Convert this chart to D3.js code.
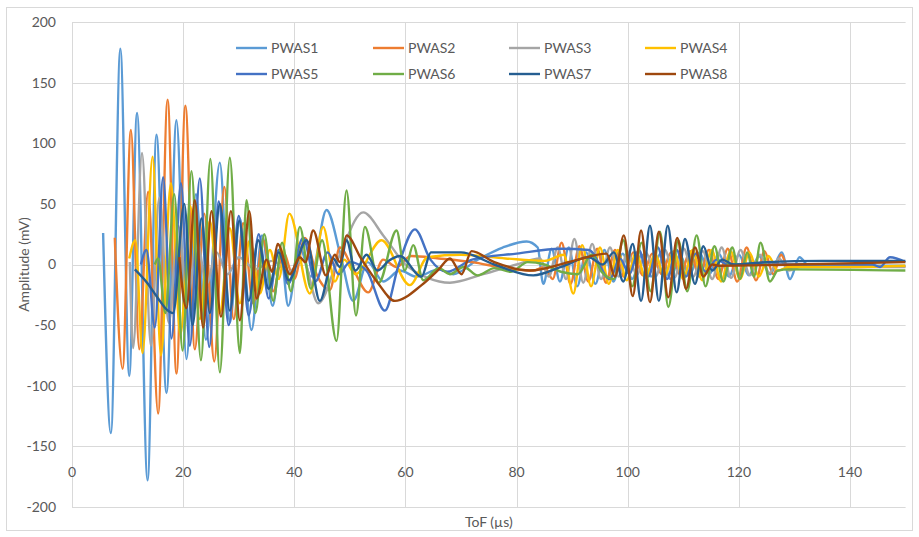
<!DOCTYPE html>
<html>
<head>
<meta charset="UTF-8" />
<title>PWAS signals</title>
<script src="https://d3js.org/d3.v7.min.js"></script>
<style>
  body { margin: 0; background: #fff; }
  text { font-family: Lato, "Open Sans", sans-serif; fill: #595959; }
  .grid line { stroke: #d9d9d9; stroke-width: 1; }
  .sig { fill: none; stroke-width: 2.4; stroke-linejoin: round; }
</style>
</head>
<body>
<script>
// ---- data (ToF in us, amplitude in mV) ----
var seriesNames = ["PWAS1", "PWAS2", "PWAS3", "PWAS4", "PWAS5", "PWAS6", "PWAS7", "PWAS8"];
var seriesColors = ["#5b9bd5", "#ed7d31", "#a5a5a5", "#ffc000", "#4472c4", "#70ad47", "#255e91", "#9e480e"];
var xTicks = [0, 20, 40, 60, 80, 100, 120, 140];
var yTicks = [-200, -150, -100, -50, 0, 50, 100, 150, 200];

var pwas1 = [[5.6,26],[7.0,-139],[8.7,178],[10.3,-92],[11.7,125],[13.6,-178],[15.2,107],[17.0,-106],[18.8,119],
  [20.6,-78],[22.3,58],[24.1,-62],[26.6,84],[28.4,-48],[30.2,38],[32.3,-54],[34.2,24],[36.1,-34],[37.6,8],[38.9,-34],
  [41.0,14],[43.0,-10],[45.8,45],[48.4,6],[50.6,-30],[53.2,2],[56.0,-14],[59.0,-5],[62.0,-10],[66.0,-4],[68.6,-8],
  [73.0,4],[77.5,14],[81.8,19],[83.8,14],[84.8,-16],[86.3,13],[87.8,-14],[89.4,14],[90.9,-18],[92.5,10],[94.2,-16],
  [95.8,12],[97.4,-14],[99.1,9],[100.8,-12],[102.5,8],[104.2,-10],[106.0,10],[107.7,-12],[109.4,8],[111.1,-9],
  [112.9,10],[114.7,-8],[116.4,9],[118.2,-10],[120.0,8],[121.8,-9],[123.6,7],[125.6,-8],[127.7,10],[129.2,-12],
  [130.9,6],[132.6,-1],[140,-1],[150,-1]];
var pwas2 = [[7.7,22],[9.1,-86],[10.6,111],[12.1,-70],[13.7,60],[15.5,-123],[17.2,136],[18.8,-90],[20.4,131],
  [22.1,-70],[23.8,42],[25.6,-80],[27.4,64],[29.1,-45],[30.8,34],[32.6,-32],[34.4,20],[36.2,-22],[38.0,10],[40.0,-12],
  [41.9,22],[44.0,-8],[46.4,-21],[48.2,14],[50.4,-2],[53.3,-23],[56.0,4],[58.4,-2],[61.0,7],[66.0,5],[72.0,2],
  [78.0,-3],[83.0,-5],[85.0,-2],[86.5,-12],[88.1,18],[89.7,-16],[91.3,15],[92.9,-14],[94.5,13],[96.1,-15],[97.7,12],
  [99.3,-10],[101.0,10],[102.7,-9],[104.4,9],[106.1,-8],[107.8,10],[109.5,-9],[111.2,11],[112.9,-10],[114.6,12],
  [116.3,-12],[118.0,13],[119.7,-14],[121.4,14],[123.1,-13],[124.6,11],[126.2,-8],[127.6,8],[129.0,-4],[131,0],
  [140,-1],[150,-2]];
var pwas3 = [[10.4,2],[11.0,-69],[12.6,92],[14.2,-67],[15.7,55],[17.4,-48],[19.1,32],[20.8,-28],[22.5,20],[24.2,-16],
  [26.0,10],[28.0,-8],[30.0,6],[33.0,-4],[36.0,3],[39.0,-6],[41.5,4],[44.3,-32],[48.0,6],[52.4,43],[56.0,24],[60.0,0],
  [64.0,-11],[68.0,-15],[74.0,-8],[80.0,0],[84.2,5],[85.8,-10],[87.4,14],[88.9,-12],[90.4,21],[92.0,-15],[93.6,17],
  [95.2,-12],[96.8,14],[98.4,-10],[100.0,11],[101.6,-9],[103.3,10],[105.0,-10],[106.7,12],[108.4,-11],[110.1,13],
  [111.8,-10],[113.5,11],[115.2,-12],[116.9,14],[118.6,-11],[120.3,12],[122.0,-9],[123.8,8],[125.5,-7],[127.2,5],
  [129.0,-5],[131,-2],[140,-2],[150,-2]];
var pwas4 = [[10.3,5],[11.4,20],[12.7,-73],[14.5,89],[16.0,-75],[17.8,67],[19.5,-58],[21.3,48],[23.0,-45],[24.8,36],
  [26.6,-40],[28.4,30],[30.2,-32],[32.0,20],[33.8,-24],[35.6,12],[37.2,-12],[39.1,42],[42.8,-24],[45.2,31],[47.3,-14],
  [49.0,4],[51.0,-8],[55.7,20],[60.8,-17],[64.0,6],[70.0,8],[78.0,5],[85.0,3],[88.5,8],[90.2,-24],[91.8,16],[93.4,-18],
  [95.0,14],[96.6,-16],[98.2,12],[99.8,-13],[101.5,10],[103.2,-11],[104.9,9],[106.6,-10],[108.3,11],[110.0,-12],
  [111.7,12],[113.4,-13],[115.1,12],[116.8,-14],[118.5,11],[120.2,-12],[121.9,10],[123.6,-10],[125.3,7],[127.0,-5],
  [129,-2],[140,-2],[150,-1]];
var pwas5 = [[12.4,0],[13.4,12],[14.9,-52],[16.4,72],[17.9,-61],[19.6,67],[21.2,-67],[23.0,71],[24.7,-68],[26.4,52],
  [28.2,-50],[30.0,40],[31.8,-42],[33.6,25],[35.4,-28],[37.2,12],[38.9,-16],[41.6,22],[43.8,-14],[46.0,10],[48.0,-8],
  [50.0,2],[53.0,-5],[56.3,-38],[58.8,0],[61.7,29],[64.5,4],[67.5,-6],[72.0,4],[80.0,9],[88.0,13],[93.0,12],
  [96.8,-12],[98.6,5],[100.3,-8],[102.0,12],[103.7,-10],[105.4,14],[107.1,-12],[108.8,12],[110.5,-10],[112.2,9],
  [114.0,-6],[116.0,4],[118,0],[130,0],[144.0,0],[145.4,-2],[147.2,6],[150,2]];
var pwas6 = [[14.9,0],[15.5,5],[16.8,-40],[18.4,58],[19.9,-71],[21.5,77],[23.2,-79],[24.9,87],[26.6,-89],[28.4,88],
  [30.2,-73],[31.4,53],[33.0,-40],[34.6,25],[36.2,-30],[37.8,18],[39.4,-22],[41.0,31],[43.0,-20],[45.0,20],[47.6,-63],
  [49.4,61],[51.1,-42],[52.7,31],[55.2,-15],[58.4,28],[59.9,-5],[61.4,16],[63.2,-13],[66.0,-3],[68.0,-8],[70.5,-2],
  [73.0,-9],[76.0,-3],[79.0,-6],[82.0,2],[85.0,0],[88.0,-6],[91.0,-8],[93.5,8],[95.3,-6],[97.5,-12],[99.2,20],
  [100.8,-18],[102.5,18],[104.1,-22],[105.8,27],[107.3,-35],[109.1,20],[110.7,-22],[112.4,24],[114.0,-18],[115.6,15],
  [117.2,-14],[118.8,14],[120.2,-12],[121.5,10],[122.7,-10],[123.9,18],[125.6,-14],[127,-5],[129,-4],[150,-5]];
var pwas7 = [[11.3,-4],[13.5,-15],[15.5,-28],[17.0,-37],[18.2,-40],[20.2,50],[21.7,-50],[23.3,38],[24.8,-40],
  [26.6,50],[28.4,-38],[30.1,36],[31.8,-30],[33.5,20],[35.4,-20],[37.2,10],[39.0,-13],[42.2,20],[44.6,-30],[47.0,5],
  [48.2,-2],[49.4,20],[51.0,-5],[53.0,8],[55.0,-5],[57.0,3],[59.0,7],[62.9,-10],[64.6,10],[70.0,10],[76.0,0],
  [83.0,-9],[88.0,-2],[93.0,6],[95.5,0],[97.5,10],[99.2,-14],[100.9,17],[102.4,-30],[104.0,32],[105.6,-30],
  [107.2,32],[108.8,-23],[110.3,21],[112.1,-16],[113.6,15],[115.2,-5],[117,4],[119,0],[125,2],[135,3],[150,3]];
var pwas8 = [[19.3,6],[20.6,-36],[22.1,53],[23.6,-52],[25.1,44],[26.8,-43],[28.6,44],[30.2,-46],[31.9,44],
  [33.2,-28],[35.0,4],[36.0,-6],[37.0,17],[39.2,-8],[41.0,6],[42.0,2],[43.4,28],[45.7,-9],[47.3,8],[48.2,2],
  [49.4,24],[52.0,5],[55.0,-15],[58.1,-30],[62.9,-17],[66.0,-4],[68.0,5],[70.1,-8],[71.9,11],[76.0,2],[82.4,-5],
  [90.2,3],[96.2,9],[97.7,-10],[99.3,24],[100.9,-26],[102.4,28],[104.0,-31],[105.6,27],[107.3,-27],[108.9,22],
  [110.5,-20],[112.1,14],[113.6,-10],[115.2,0],[116.5,-1],[130,0],[150,2]];

var seriesData = [pwas1, pwas2, pwas3, pwas4, pwas5, pwas6, pwas7, pwas8];

// ---- layout ----
var width = 919, height = 537;
var plotLeft = 72, plotRight = 905.6, plotTop = 22, plotBottom = 507;

var svg = d3.select("body").append("svg").attr("width", width).attr("height", height);

svg.append("rect").attr("x", 6.5).attr("y", 7.5).attr("width", 906).attr("height", 523)
  .attr("fill", "#fff").attr("stroke", "#d9d9d9").attr("stroke-width", 1);

var x = d3.scaleLinear().domain([0, 150]).range([plotLeft, plotRight]);
var y = d3.scaleLinear().domain([-200, 200]).range([plotBottom, plotTop]);

// gridlines
var grid = svg.append("g").attr("class", "grid");
grid.selectAll("line.h").data(yTicks).enter().append("line").attr("class", "h")
  .attr("x1", plotLeft).attr("x2", plotRight)
  .attr("y1", function(d) { return Math.round(y(d)) + 0.5; })
  .attr("y2", function(d) { return Math.round(y(d)) + 0.5; });
grid.selectAll("line.v").data(xTicks).enter().append("line").attr("class", "v")
  .attr("y1", plotTop).attr("y2", plotBottom)
  .attr("x1", function(d) { return Math.round(x(d)) + 0.5; })
  .attr("x2", function(d) { return Math.round(x(d)) + 0.5; });

// tick labels
svg.append("g").selectAll("text").data(yTicks).enter().append("text")
  .attr("x", 56).attr("y", function(d) { return y(d); })
  .attr("dy", "0.35em").attr("text-anchor", "end").style("font-size", "14px")
  .text(function(d) { return d; });
svg.append("g").selectAll("text").data(xTicks).enter().append("text")
  .attr("x", function(d) { return x(d); }).attr("y", 472)
  .attr("dy", "0.35em").attr("text-anchor", "middle").style("font-size", "14px")
  .text(function(d) { return d; });

// axis titles
svg.append("text").attr("transform", "translate(24," + ((plotTop + plotBottom) / 2) + ") rotate(-90)")
  .attr("text-anchor", "middle").attr("dy", "0.35em").style("font-size", "14px").text("Amplitude (mV)");
svg.append("text").attr("x", (plotLeft + plotRight) / 2).attr("y", 522)
  .attr("text-anchor", "middle").attr("dy", "0.35em").style("font-size", "14px").text("ToF (µs)");

// signals
svg.append("clipPath").attr("id", "plotclip").append("rect")
  .attr("x", plotLeft).attr("y", plotTop).attr("width", plotRight - plotLeft).attr("height", plotBottom - plotTop);

var line = d3.line()
  .x(function(d) { return x(d[0]); })
  .y(function(d) { return y(d[1]); })
  .curve(d3.curveMonotoneX);

var plot = svg.append("g").attr("clip-path", "url(#plotclip)");
plot.selectAll("path").data(seriesData).enter().append("path")
  .attr("class", "sig")
  .attr("stroke", function(d, i) { return seriesColors[i]; })
  .attr("d", line);

// legend (2 rows x 4 columns)
var legendX = [236, 373, 509, 645];
var legendY = [48, 74];
var lg = svg.append("g");
seriesNames.forEach(function(name, i) {
  var lx = legendX[i % 4], ly = legendY[Math.floor(i / 4)];
  lg.append("line").attr("x1", lx).attr("x2", lx + 31).attr("y1", ly).attr("y2", ly)
    .attr("stroke", seriesColors[i]).attr("stroke-width", 2.4);
  lg.append("text").attr("x", lx + 35).attr("y", ly).attr("dy", "0.35em")
    .style("font-size", "14px").text(name);
});
</script>
</body>
</html>
